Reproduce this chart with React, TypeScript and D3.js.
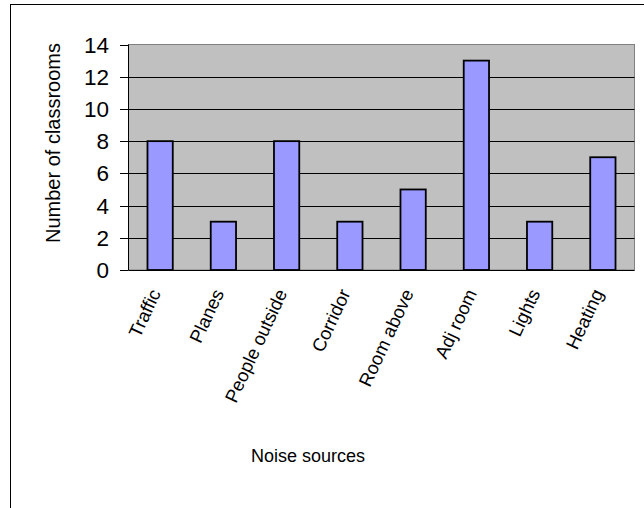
import React from "react";
import * as d3 from "d3";

const categories = ["Traffic", "Planes", "People outside", "Corridor", "Room above", "Adj room", "Lights", "Heating"];
const classrooms = [8, 3, 8, 3, 5, 13, 3, 7];
const yTicks = [0, 2, 4, 6, 8, 10, 12, 14];

const W = 644;
const H = 508;
const plot = { left: 128.5, top: 44.5, right: 634.5, bottom: 270 };
const FONT = "'Liberation Sans', Arial, sans-serif";

export default function App() {
  const x = d3
    .scaleBand<string>()
    .domain(categories)
    .range([plot.left, plot.right])
    .paddingInner(0.6)
    .paddingOuter(0.3);
  const band = d3.scaleBand<string>().domain(categories).range([plot.left, plot.right]);
  const y = d3.scaleLinear().domain([0, 14]).range([plot.bottom, plot.top]);

  return (
    <svg
      width={W}
      height={H}
      style={{ position: "absolute", left: 0, top: 0, background: "#fff" }}
      fontFamily={FONT}
    >
      {/* chart frame */}
      <rect x={10.5} y={4.5} width={W + 20} height={H + 20} fill="#fff" stroke="#000" strokeWidth={1} />

      {/* plot area */}
      <rect
        x={plot.left}
        y={plot.top}
        width={plot.right - plot.left}
        height={plot.bottom - plot.top}
        fill="#C0C0C0"
        stroke="#808080"
        strokeWidth={1}
      />

      {/* gridlines and y ticks */}
      {yTicks.map((t) => (
        <g key={t}>
          {t > 0 && t < 14 && (
            <line x1={plot.left} x2={plot.right} y1={Math.round(y(t)) + 0.5} y2={Math.round(y(t)) + 0.5} stroke="#000" strokeWidth={1} />
          )}
          <line x1={120} x2={plot.left} y1={Math.round(y(t)) + 0.5} y2={Math.round(y(t)) + 0.5} stroke="#000" strokeWidth={1} />
          <text x={109} y={y(t)} dy="0.36em" textAnchor="end" fontSize={22.5} fill="#000">
            {t}
          </text>
        </g>
      ))}

      {/* bars */}
      {categories.map((c, i) => (
        <rect
          key={c}
          x={x(c)}
          y={y(classrooms[i])}
          width={x.bandwidth()}
          height={plot.bottom - y(classrooms[i])}
          fill="#9999FF"
          stroke="#000"
          strokeWidth={1.8}
        />
      ))}

      {/* axes */}
      <line x1={plot.left} x2={plot.left} y1={plot.top} y2={plot.bottom} stroke="#000" strokeWidth={1} />
      <line x1={plot.left} x2={plot.right} y1={plot.bottom + 0.5} y2={plot.bottom + 0.5} stroke="#000" strokeWidth={1} />

      {/* category labels */}
      {categories.map((c) => {
        const cx = (band(c) as number) + band.bandwidth() / 2 + 1;
        const cy = 293;
        return (
          <text
            key={c}
            transform={`translate(${cx},${cy}) rotate(-65)`}
            textAnchor="end"
            fontSize={18.5}
            fill="#000"
          >
            {c}
          </text>
        );
      })}

      {/* axis titles */}
      <text x={308} y={462} textAnchor="middle" fontSize={18} fill="#000">
        Noise sources
      </text>
      <text
        transform={`translate(60,${(43 + 243) / 2}) rotate(-90)`}
        textAnchor="middle"
        fontSize={20}
        fill="#000"
      >
        Number of classrooms
      </text>
    </svg>
  );
}
